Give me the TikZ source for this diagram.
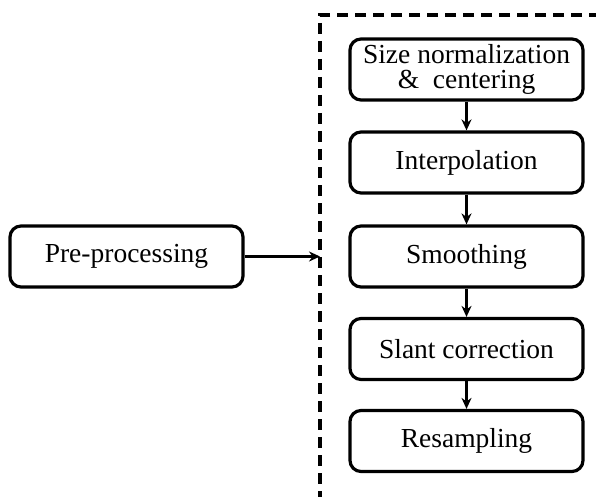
\documentclass[tikz,border=0pt]{standalone}
\usepackage{fontspec}
\setmainfont{Liberation Serif}
\usetikzlibrary{arrows.meta}
\begin{document}
\begin{tikzpicture}[x=1pt,y=-1pt,
  stage/.style={draw,line width=3.2pt,rounded corners=11pt,minimum width=233pt,
    minimum height=61pt,inner sep=0pt,align=center,
    font=\fontsize{27.5}{27}\selectfont},
  link/.style={line width=2.6pt,-{Stealth[length=11pt,width=10pt]}},
  frame/.style={line width=3.2pt,dash pattern=on 11pt off 7pt}]
\useasboundingbox (0,0) rectangle (596,497);
% dashed enclosure (only its top and left sides lie in view)
\coordinate (ftr) at (600,15);
\coordinate (ftl) at (320,15);
\coordinate (fbl) at (320,500);
\draw[frame] (ftr) -- (ftl) -- (fbl);
% stages
\node[stage] (pre) at (126.5,256.5) {Pre-processing};
\node[stage] (s1) at (466.5,69.5) {Size normalization\\[-2pt]\&\ \ centering};
\node[stage] (s2) at (466.5,162.5) {Interpolation};
\node[stage] (s3) at (466.5,256.5) {Smoothing};
\node[stage] (s4) at (466.5,349) {Slant correction};
\node[stage] (s5) at (466.5,441) {Resampling};
% connectors
\coordinate (in) at (320,256.5);
\draw[link] (pre.east) -- (in);
\draw[link] (s1) -- (s2);
\draw[link] (s2) -- (s3);
\draw[link] (s3) -- (s4);
\draw[link] (s4) -- (s5);
\end{tikzpicture}
\end{document}
